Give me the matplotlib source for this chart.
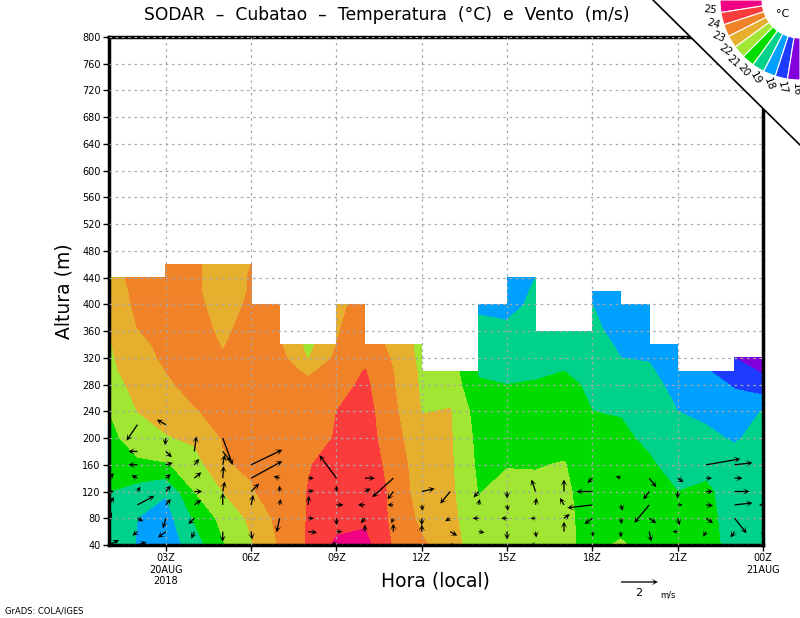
import numpy as np
import matplotlib
matplotlib.use("Agg")
import matplotlib.pyplot as plt
from matplotlib.patches import Wedge, Polygon

# ---------------- data ----------------
hours = list(range(1, 25))  # 01Z ... 24Z (=00Z 21AUG)
heights = [40, 80, 120, 160, 200, 240, 280, 300, 320, 340, 360, 400, 420, 440, 460]

# temperature (degC) per hourly column, from 40 m up to the top valid level
t01 = [19.5, 19.6, 20.0, 20.4, 20.7, 21.0, 21.5, 21.7, 21.8, 21.9, 22.2, 22.5, 22.55, 22.6]
t02 = [18.95, 19.0, 19.6, 20.8, 21.5, 22.0, 22.35, 22.6, 22.75, 22.85, 22.98, 23.15, 23.2, 23.3]
t03 = [18.4, 18.6, 19.1, 20.9, 21.9, 22.5, 22.9, 23.0, 23.1, 23.15, 23.2, 23.4, 23.45, 23.5, 23.5]
t04 = [19.5, 20.1, 21.0, 21.5, 22.2, 22.95, 23.2, 23.35, 23.4, 23.4, 23.3, 23.15, 23.1, 23.1, 23.1]
t05 = [20.9, 21.3, 22.0, 22.9, 23.05, 23.2, 23.2, 23.1, 23.05, 22.95, 22.85, 22.75, 22.7, 22.7, 22.7]
t06 = [21.9, 22.2, 22.9, 23.15, 23.3, 23.4, 23.5, 23.5, 23.5, 23.4, 23.3, 23.1, 23.05, 23.05, 23.0]
t07 = [23.1, 23.3, 23.5, 23.6, 23.6, 23.6, 23.5, 23.4, 23.35, 23.1, 23.35, 23.3]
t08 = [24.1, 24.05, 24.02, 23.95, 23.7, 23.5, 23.2, 22.85, 21.95, 21.7]
t09 = [25.2, 24.6, 24.5, 24.3, 24.05, 24.0, 23.6, 23.4, 23.2, 23.0, 22.95, 22.8]
t10 = [25.3, 24.8, 24.7, 24.6, 24.5, 24.4, 24.2, 24.05, 23.7, 23.4, 23.35, 23.3]
t11 = [23.9, 23.78, 23.77, 23.6, 23.33, 23.2, 23.05, 23.0, 22.9, 22.8]
t12 = [23.15, 22.75, 22.45, 22.4, 22.35, 21.95, 21.85, 21.8, 21.7, 21.65]
t13 = [22.5, 22.3, 22.2, 22.15, 22.1, 22.05, 21.6, 21.5]
t14 = [21.3, 21.2, 20.95, 20.8, 20.7, 20.5, 20.1, 19.9, 19.8, 19.5, 19.3, 18.8]
t15 = [21.5, 21.5, 21.3, 20.95, 20.7, 20.4, 20.0, 19.8, 19.6, 19.4, 19.2, 18.7, 18.65, 18.6]
t16 = [21.5, 21.4, 21.2, 20.95, 20.6, 20.3, 20.05, 19.9, 19.8, 19.6, 19.5, 19.2, 19.1, 19.0]
t17 = [21.2, 21.25, 21.2, 21.05, 20.7, 20.4, 20.2, 20.0, 19.85, 19.7, 19.5]
t18 = [20.7, 20.6, 20.5, 20.4, 20.2, 20.0, 19.85, 19.7, 19.6, 19.4, 19.2, 19.0, 18.8]
t19 = [21.15, 20.5, 20.4, 20.3, 20.15, 19.95, 19.4, 19.2, 19.0, 18.85, 18.7, 18.6, 18.5]
t20 = [20.5, 20.4, 20.3, 20.1, 19.85, 19.5, 19.3, 19.1, 18.95, 18.7, 18.5, 18.4]
t21 = [20.3, 20.2, 20.0, 19.7, 19.3, 19.0, 18.7, 18.6, 18.4, 18.3]
t22 = [20.2, 20.2, 20.15, 19.75, 19.2, 18.8, 18.4, 18.1]
t23 = [19.8, 19.7, 19.6, 19.4, 18.9, 18.5, 17.9, 17.4, 17.0]
t24 = [19.6, 19.5, 19.5, 19.4, 19.3, 19.05, 17.3, 16.9, 16.7]
temp_columns = [t01, t02, t03, t04, t05, t06, t07, t08, t09, t10, t11, t12,
                t13, t14, t15, t16, t17, t18, t19, t20, t21, t22, t23, t24]

# wind vectors (m/s): hour, height, u, v
wind_hour = [1, 1, 1, 1, 1,
             2, 2, 2, 2, 2, 2, 2, 2, 2,
             3, 3, 3, 3, 3, 3, 3, 3, 3,
             4, 4, 4, 4, 4, 4, 4,
             5, 5, 5, 5, 5, 5, 5,
             6, 6, 6, 6, 6, 6,
             7, 7, 7, 7,
             8, 8, 8, 8, 8, 8,
             9, 9, 9, 9, 9, 9,
             10, 10, 10, 10, 10,
             11, 11, 11, 11, 11,
             12, 12, 12, 12,
             13, 13, 13, 13,
             14, 14, 14, 14,
             15, 15, 15, 15, 15,
             16, 16, 16, 16, 16,
             17, 17, 17, 17,
             18, 18, 18, 18, 18,
             19, 19, 19, 19, 19,
             20, 20, 20, 20, 20,
             21, 21, 21, 21, 21, 21,
             22, 22, 22, 22, 22, 22,
             23, 23, 23, 23, 23, 23,
             24, 24, 24]
wind_height = [40, 80, 100, 120, 140,
               220, 180, 160, 140, 120, 100, 80, 60, 40,
               220, 200, 180, 160, 140, 120, 100, 80, 60,
               180, 160, 140, 120, 100, 80, 60,
               200, 180, 160, 140, 120, 100, 60,
               160, 140, 120, 100, 60, 40,
               140, 120, 100, 80,
               140, 120, 100, 80, 60, 40,
               140, 120, 100, 80, 60, 40,
               140, 120, 100, 80, 60,
               140, 120, 100, 80, 60,
               120, 100, 80, 60,
               120, 80, 60, 40,
               120, 100, 80, 60,
               120, 100, 80, 60, 40,
               120, 100, 80, 60, 40,
               120, 100, 80, 60,
               140, 120, 100, 80, 60,
               140, 120, 100, 80, 60,
               140, 120, 100, 80, 60,
               140, 120, 100, 80, 60, 40,
               160, 140, 120, 100, 80, 60,
               160, 140, 120, 100, 80, 60,
               120, 100, 60]
wind_u = [0.54, 0.16, 0.27, 0.27, 0.27,
          -0.59, -0.49, -0.49, -0.32, 0.16, 0.92, 0.32, -0.27, 0.49,
          -0.49, -0.05, 0.32, 0.38, 0.27, 0.27, 0.27, -0.16, -0.43,
          0.11, 0.27, 0.38, 0.43, 0.38, -0.32, -0.16,
          0.54, 0.43, 0.11, 0.05, 0.11, 0.0, 0.0,
          1.68, 1.68, 0.43, 0.11, 0.05, 0.05,
          -0.32, 0.0, 0.05, -0.16,
          0.32, 0.32, 0.05, 0.32, 0.49, -0.16,
          -0.92, 0.0, 0.38, 0.0, 0.32, -0.22,
          0.54, 0.32, -0.38, -0.22, 0.0,
          -1.14, -0.32, -0.32, -0.11, 0.0,
          0.70, 0.05, 0.0, 0.0,
          -0.54, -0.27, 0.38, 0.27,
          -0.27, 0.05, -0.32, 0.32,
          0.0, 0.05, -0.32, 0.0, 0.0,
          -0.22, 0.05, -0.27, 0.05, -0.32,
          0.0, -0.22, 0.32, 0.0,
          -0.27, -0.86, -1.35, -0.43, 0.05,
          -0.27, 0.03, 0.11, 0.05, 0.0,
          0.38, -0.32, -0.81, 0.38, 0.11,
          0.32, 0.0, 0.27, 0.11, -0.27, 0.05,
          1.85, 0.32, 0.38, 0.38, 0.38, -0.16,
          0.97, 0.43, 0.81, 0.97, 0.65, -0.22,
          0.16, -0.22, 0.0]
wind_v = [0.27, 0.32, 0.43, 0.0, 0.27,
          -0.86, 0.0, 0.0, 0.16, 0.27, 0.49, -0.16, -0.22, 0.16,
          0.27, -0.38, -0.32, 0.11, 0.22, 0.32, 0.32, -0.54, -0.32,
          0.81, 0.32, 0.32, 0.0, 0.27, -0.32, -0.38,
          -1.46, -0.54, 0.54, 0.65, 0.54, 0.65, -0.54,
          0.81, 0.92, 0.43, 0.54, -0.43, -0.49,
          0.11, 0.32, 0.32, -0.76,
          0.0, 0.05, 0.49, 0.0, -0.05, 0.0,
          1.24, 0.32, 0.0, -0.38, 0.0, 0.16,
          0.0, 0.16, 0.0, -0.27, 0.38,
          -1.03, -0.43, 0.0, -0.27, 0.43,
          0.16, -0.32, -0.38, 0.38,
          -0.65, -0.16, -0.22, 0.0,
          -0.32, 0.32, 0.0, -0.05,
          -0.38, -0.32, 0.0, -0.43, -0.22,
          0.65, 0.38, 0.0, -0.32, 0.0,
          0.65, 0.38, 0.22, 0.54,
          -0.27, 0.0, -0.16, -0.32, -0.27,
          0.11, 0.0, -0.32, -0.32, -0.32,
          -0.49, -0.43, -0.97, -0.27, -0.54,
          -0.22, -0.38, 0.0, -0.38, 0.0, -0.32,
          0.32, 0.0, 0.0, -0.05, -0.27, -0.27,
          0.11, 0.0, 0.0, 0.11, -0.81, -0.32,
          0.0, 0.0, -0.27]

levels = [16, 17, 18, 19, 20, 21, 22, 23, 24, 25, 27]
level_labels = ["25", "24", "23", "22", "21", "20", "19", "18", "17", "16"]
colors = ["#8200DC", "#1E3CFF", "#00A0FF", "#00D28C", "#00DC00",
          "#A0E632", "#E6AF2D", "#F08228", "#FA3C3C", "#F00082"]

xtick_pos = [3, 6, 9, 12, 15, 18, 21, 24]
xtick_lab = ["03Z\n20AUG\n2018", "06Z", "09Z", "12Z", "15Z", "18Z", "21Z", "00Z\n21AUG"]
ytick_pos = list(range(40, 801, 40))

# ---------------- figure ----------------
W, H = 800, 618
fig = plt.figure(figsize=(W / 100, H / 100), dpi=100)
ax = fig.add_axes([109 / W, (H - 545) / H, 654 / W, 508 / H])

Z = np.full((len(heights), len(hours)), np.nan)
for j, col in enumerate(temp_columns):
    Z[:len(col), j] = col
Zm = np.ma.masked_invalid(Z)

ax.contourf(hours, heights, Zm, levels=levels, colors=colors, zorder=1,
            corner_mask=False)

ax.set_xlim(1, 24)
ax.set_ylim(40, 800)
ax.set_xticks(xtick_pos)
ax.set_xticklabels(xtick_lab, fontsize=7, linespacing=1.15)
ax.set_yticks(ytick_pos)
ax.set_yticklabels([str(v) for v in ytick_pos], fontsize=7)
ax.tick_params(direction="out", length=4, width=1, pad=2)
ax.set_axisbelow(False)
ax.grid(True, color="#a8a8a8", linestyle=(0, (2, 3)), linewidth=0.9)
for s in ax.spines.values():
    s.set_linewidth(2.5)

Q = ax.quiver(wind_hour, wind_height, wind_u, wind_v, angles="uv",
              scale_units="dots", scale=1 / 18.5, pivot="tail",
              units="dots", width=1.3, headwidth=5.0, headlength=5.0,
              headaxislength=2.8, minlength=0.5, color="k", zorder=4)
ax.quiverkey(Q, X=621 / W, Y=1 - 582 / H, U=2, label="", coordinates="figure",
             labelpos="W")

fig.text(639 / W, 1 - 593 / H, "2", fontsize=8, ha="center", va="center")
fig.text(668 / W, 1 - 595 / H, "m/s", fontsize=6, ha="center", va="center")

fig.text(387 / W, 1 - 15 / H,
         "SODAR  \u2013  Cubatao  \u2013  Temperatura  (\u00b0C)  e  Vento  (m/s)",
         fontsize=12.3, ha="center", va="center")
fig.text(64 / W, 1 - 291 / H, "Altura (m)", rotation=90, fontsize=13.5,
         ha="center", va="center")
fig.text(435 / W, 1 - 581 / H, "Hora (local)", fontsize=13.5,
         ha="center", va="center")
fig.text(5 / W, 1 - 611 / H, "GrADS: COLA/IGES", fontsize=6, ha="left",
         va="center")

# ---------------- corner legend ----------------
ov = fig.add_axes([0, 0, 1, 1], zorder=10)
ov.set_xlim(0, W)
ov.set_ylim(0, H)
ov.axis("off")
ov.add_patch(Polygon([(653, H), (W + 5, H), (W + 5, H - 150)], closed=True,
                     facecolor="white", edgecolor="none"))
ov.plot([653, W], [H, H - 145], color="k", lw=1.2)
cx, cy = W, H
for i, c in enumerate(colors[::-1]):
    ov.add_patch(Wedge((cx, cy), 80, 180 + 9 * i, 180 + 9 * (i + 1), width=42,
                       facecolor=c, edgecolor="white", lw=0.8))
for k, lab in enumerate(level_labels):
    a = 9 * (k + 1) - 2.5
    r = 90
    x = cx - r * np.cos(np.radians(a))
    y = cy - r * np.sin(np.radians(a))
    ov.text(x, y, lab, fontsize=7.5, rotation=-a, ha="center", va="center",
            rotation_mode="anchor")
ov.text(783, H - 14, "\u00b0C", fontsize=8, ha="center", va="center")

fig.savefig("out.png", dpi=100)
